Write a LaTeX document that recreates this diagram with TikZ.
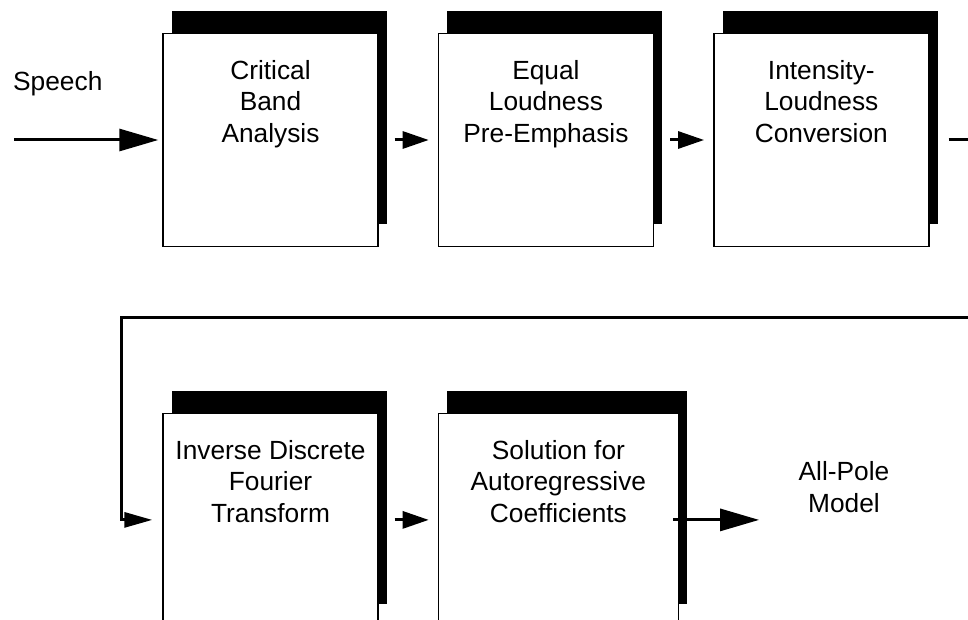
\documentclass[tikz,border=0pt]{standalone}
\usepackage{fontspec}
\setmainfont{Liberation Sans}
\usepackage{tikz}
\usetikzlibrary{
  arrows.meta,
  positioning,
  shadows
}

\begin{document}
\begin{tikzpicture}[
      x=1pt,y=-1pt,
      stage/.style={
         rectangle,
         minimum width=215pt,
         minimum height=212.5pt,
         inner sep=0pt,
         line width=1.4pt,
         draw=black,
         fill=white,
         general shadow={fill=black,shadow xshift=9pt,shadow yshift=22.5pt}
      },
      caption/.style={
         inner sep=0pt,
         align=center,
         font=\fontsize{26.3}{31.5}\selectfont
      },
      point/.style={coordinate},
      flow/.style={line width=3pt,draw=black},
      tip/.style={flow,-{Triangle[length=26pt,width=17pt]}},
      long tip/.style={flow,-{Triangle[length=39pt,width=22pt]}},
      loop tip/.style={flow,-{Triangle[length=28pt,width=15pt]}}
    ]
    \useasboundingbox (0,0) rectangle (968,620);
    \clip (0,0) rectangle (968,620);
    % upper row
    \node (cba) [stage] at (270.5,140) {};
    \node (elp) [stage, right=59pt of cba] {};
    \node (ilc) [stage, right=59pt of elp] {};
    % lower row (cut off at the bottom)
    \node (idft) [stage, below=166pt of cba] {};
    \node (sac) [stage, minimum width=240pt, right=59pt of idft] {};
    % texts
    \node (cba-txt) [caption, below=27pt of cba.north] {Critical\\Band\\Analysis};
    \node (elp-txt) [caption, below=27pt of elp.north] {Equal\\Loudness\\Pre-Emphasis};
    \node (ilc-txt) [caption, below=27pt of ilc.north] {Intensity-\\Loudness\\Conversion};
    \node (idft-txt) [caption, below=27pt of idft.north] {Inverse Discrete\\Fourier\\Transform};
    \node (sac-txt) [caption, below=27pt of sac.north] {Solution for\\Autoregressive\\Coefficients};
    \node (speech) [caption, anchor=base west] at (13,91) {Speech};
    \node (pole) [caption, anchor=north] at (844,461.5) {All-Pole\\Model};
    % free ends
    \node (src) [point] at (14,140) {};
    \node (wrapR) [point] at (985,140) {};
    \node (wrapL) [point] at (121,317) {};
    \node (out) [point, right=80pt of sac.east] {};
    % connectors
    \draw [long tip, shorten >=4pt] (src) -- (cba);
    \draw [tip, shorten <=16pt, shorten >=9pt] (cba) -- (elp);
    \draw [tip, shorten <=16pt, shorten >=9pt] (elp) -- (ilc);
    \draw [loop tip, shorten <=19pt, shorten >=10pt] (ilc) -- (wrapR) |- (wrapL) |- (idft);
    \draw [tip, shorten <=16pt, shorten >=9pt] (idft) -- (sac);
    \draw [long tip, shorten <=-6pt] (sac) -- (out);
\end{tikzpicture}
\end{document}
